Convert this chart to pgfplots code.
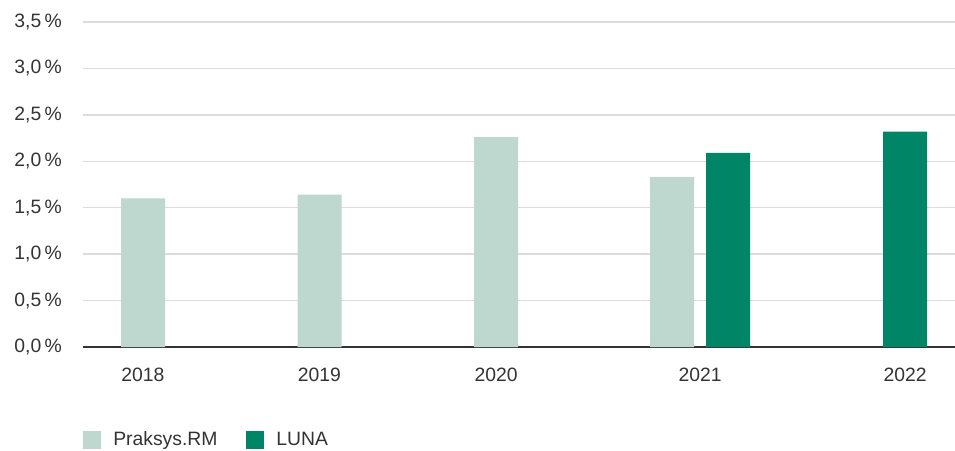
\documentclass[border=0pt]{standalone}
\usepackage{fontspec}
\setmainfont{Liberation Sans}
\usepackage{pgfplots}
\pgfplotsset{compat=1.18}

\definecolor{praksys}{HTML}{BFD8CF}
\definecolor{luna}{HTML}{008566}
\definecolor{gridgray}{HTML}{DCDCDC}
\definecolor{textgray}{HTML}{333333}

% x is in pixel units of the reference (83..955); bars are 44 px wide
\pgfplotstableread{
x     y
143   1.60
319.5 1.64
496   2.26
672   1.83
}\praksysdata
\pgfplotstableread{
x     y
728   2.09
905   2.32
}\lunadata

\begin{document}
\begin{tikzpicture}
\useasboundingbox (0,0) rectangle (716.25pt,337.5pt);
\begin{axis}[
    at={(62.25pt,77.25pt)}, anchor=south west,
    scale only axis,
    width=654pt, height=243.75pt,
    xmin=83, xmax=955,
    ymin=0, ymax=3.5,
    axis x line*=bottom,
    axis y line*=left,
    x axis line style={color=textgray, line width=1.1pt},
    y axis line style={draw=none},
    major tick length=0pt,
    ytick={0,0.5,...,3.5},
    ymajorgrids,
    grid style={color=gridgray, line width=1.1pt},
    xtick={143,319.5,496,700,905},
    xticklabels={2018,2019,2020,2021,2022},
    /pgf/number format/assume math mode=true,
    yticklabel={\pgfmathprintnumber[fixed,fixed zerofill,precision=1,use comma]{\tick}\,\%},
    yticklabel style={font=\fontsize{14.5pt}{17pt}\selectfont, text=textgray, inner sep=0pt, anchor=east, xshift=-15.75pt},
    xticklabel style={font=\fontsize{14.5pt}{17pt}\selectfont, text=textgray, inner sep=0pt, anchor=north, yshift=-15.5pt},
    legend columns=2,
    legend style={at={(rel axis cs:0,-0.286)}, anchor=west, draw=none, fill=none,
        inner sep=0pt, font=\fontsize{14.5pt}{17pt}\selectfont, text=textgray,
        nodes={inner sep=0pt},
        /tikz/every odd column/.append style={column sep=9pt},
        /tikz/every even column/.append style={column sep=21.75pt}},
]
\addplot[ybar, bar width=44, bar shift=0pt, fill=praksys, draw=none,
    legend image code/.code={\fill[praksys] (0pt,-6.75pt) rectangle (13.5pt,6.75pt);}]
    table[x=x,y=y] {\praksysdata};
\addplot[ybar, bar width=44, bar shift=0pt, fill=luna, draw=none,
    legend image code/.code={\fill[luna] (0pt,-6.75pt) rectangle (13.5pt,6.75pt);}]
    table[x=x,y=y] {\lunadata};
\legend{Praksys.RM, LUNA}
\end{axis}
\end{tikzpicture}
\end{document}
